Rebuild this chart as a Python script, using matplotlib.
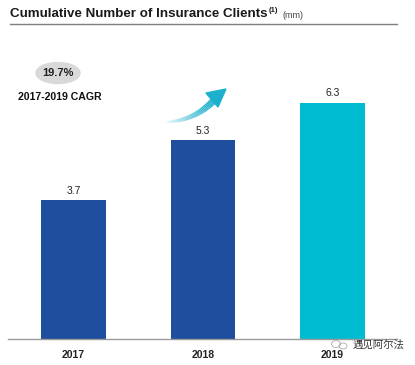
import numpy as np
import matplotlib
matplotlib.use("Agg")
from matplotlib import pyplot as plt
from matplotlib.patches import Ellipse, Polygon
from matplotlib.lines import Line2D

years = ["2017", "2018", "2019"]
clients = [3.7, 5.3, 6.3]
bar_colors = ["#1F4E9F", "#1F4E9F", "#00BCD0"]
cagr = "19.7%"

plt.rcParams["font.family"] = ["Liberation Sans", "DejaVu Sans"]

fig = plt.figure(figsize=(4.15, 3.65), dpi=100)
W, H = 415, 365

def fx(px):
    return px / W

def fy(py):
    return 1 - py / H

# axes: baseline at y=339px, top at 40px
ax = fig.add_axes([fx(8), fy(339), fx(397) - fx(8), fy(40) - fy(339)])
x = np.arange(len(years))
ax.bar(x, clients, width=0.5, color=bar_colors)
ax.set_xlim(-0.506, 2.498)
ax.set_ylim(0, 299 / 37.5)
for xi, v in zip(x, clients):
    ax.text(xi, v + 0.12, f"{v}", ha="center", va="bottom", fontsize=7.5, color="#222222")
ax.set_xticks(x)
ax.set_xticklabels(years, fontsize=7.5, color="#222222", fontweight="bold")
ax.tick_params(axis="x", length=0, pad=8)
ax.set_yticks([])
for s in ["top", "left", "right"]:
    ax.spines[s].set_visible(False)
ax.spines["bottom"].set_color("#9a9a9a")
ax.spines["bottom"].set_linewidth(1.0)

# title
title = fig.text(fx(10), fy(14), "Cumulative Number of Insurance Clients", fontsize=9.6,
                 fontweight="bold", color="#1a1a1a", va="center", ha="left")
fig.canvas.draw()
bb = title.get_window_extent()
tx_end = bb.x1 / W
fig.text(tx_end + fx(1), fy(10), "(1)", fontsize=5.5, fontweight="bold", color="#1a1a1a",
         va="center", ha="left")
fig.text(tx_end + fx(15), fy(15), "(mm)", fontsize=6.5, color="#444444", va="center", ha="left")
fig.add_artist(Line2D([fx(10), fx(397)], [fy(24), fy(24)], color="#7f7f7f", lw=1.0))

# CAGR badge
fig.add_artist(Ellipse((fx(58), fy(73)), fx(44), 21 / H, color="#d9d9d9"))
fig.text(fx(58), fy(73), cagr, fontsize=8, fontweight="bold", color="#222222",
         ha="center", va="center")
fig.text(fx(60), fy(97), "2017-2019 CAGR", fontsize=7.6, fontweight="bold",
         color="#111111", ha="center", va="center")

# gradient arrow (decoration)
p0 = np.array([163.0, 122.0])
p1 = np.array([195.0, 122.0])
p2 = np.array([216.0, 98.0])
t = np.linspace(0, 1, 40)
pts = (1 - t)[:, None] ** 2 * p0 + 2 * ((1 - t) * t)[:, None] * p1 + (t ** 2)[:, None] * p2
c0 = np.array([1.0, 1.0, 1.0])
c1 = np.array([0x1C, 0xB0, 0xCC]) / 255
for i in range(len(pts) - 1):
    frac = i / (len(pts) - 2)
    col = c0 * (1 - frac) ** 1.5 + c1 * (1 - (1 - frac) ** 1.5)
    lw = 1.5 + 4.0 * frac
    fig.add_artist(Line2D([fx(pts[i, 0]), fx(pts[i + 1, 0])],
                          [fy(pts[i, 1]), fy(pts[i + 1, 1])],
                          color=col, lw=lw, solid_capstyle="butt"))
head = [(226, 89), (206, 93), (218, 107)]
fig.add_artist(Polygon([(fx(a), fy(b)) for a, b in head], closed=True, color=c1))

# watermark
fig.text(fx(353), fy(345), "遇见阿尔法", fontsize=7.5, color="#333333",
         family=["Noto Sans CJK SC", "DejaVu Sans"], ha="left", va="center")
fig.add_artist(Ellipse((fx(336), fy(344)), fx(9), 7 / H, fill=False, ec="#aaaaaa", lw=0.6))
fig.add_artist(Ellipse((fx(343), fy(346)), fx(8), 6 / H, fill=False, ec="#aaaaaa", lw=0.6))

fig.savefig("out.png", dpi=100)
